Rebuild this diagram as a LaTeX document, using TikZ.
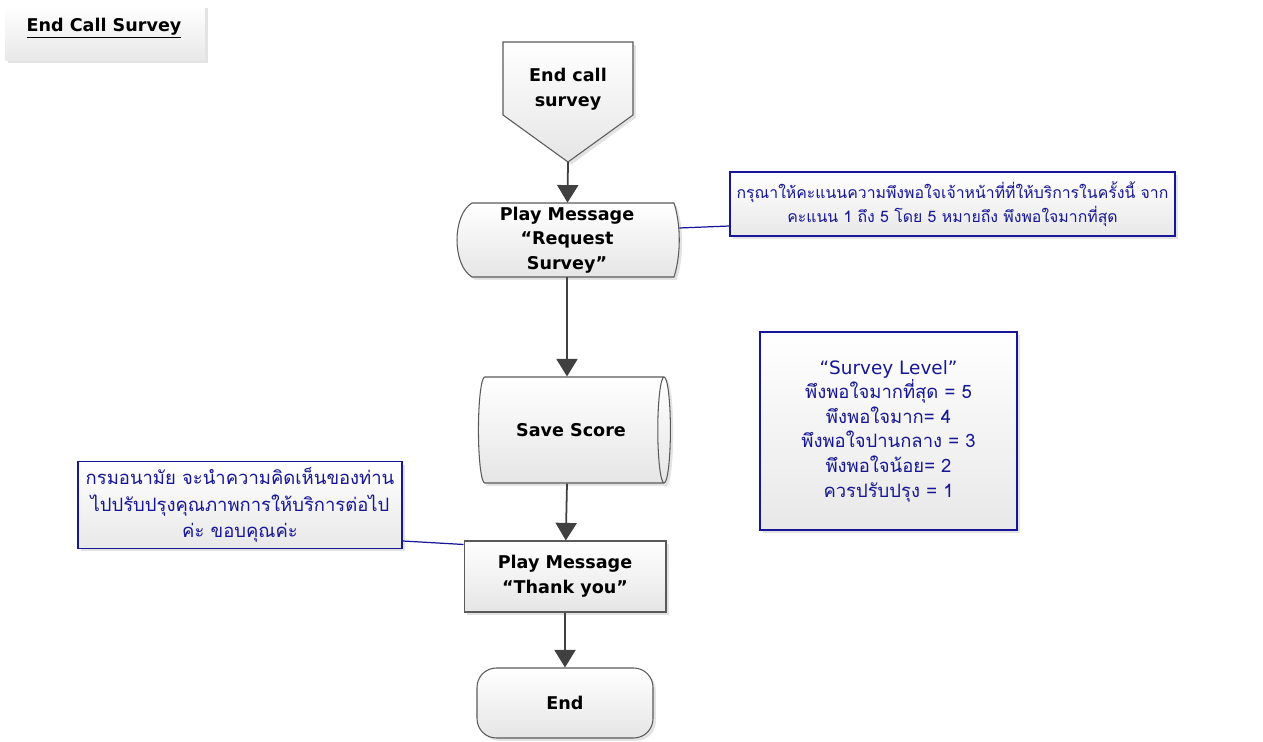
\documentclass[tikz,border=0pt]{standalone}
\usepackage{fontspec}
\setmainfont{DejaVu Sans}
\newfontfamily\thaifont[Script=Thai]{Loma}
\usetikzlibrary{arrows.meta,positioning,shapes.geometric,shadows,calc}
\definecolor{NoteBlue}{RGB}{22,22,150}
\definecolor{FlowGray}{RGB}{64,64,64}
\definecolor{EdgeGray}{RGB}{90,90,90}

\tikzset{
  shadowed/.style={drop shadow={opacity=0.22,shadow xshift=1.6pt,shadow yshift=-1.6pt}},
  shapefill/.style={top color=white,bottom color=black!10,draw=EdgeGray,line width=0.6pt},
  plain/.style={inner sep=0pt,align=center,font=\bfseries\fontsize{10}{14}\selectfont},
  notebox/.style={rectangle,draw=NoteBlue,line width=0.7pt,top color=white,bottom color=black!9,
                  shadowed,align=center,text=NoteBlue,font=\thaifont\fontsize{10}{13.6}\selectfont},
  flow/.style={draw=FlowGray,line width=1pt,-{Triangle[width=12pt,length=10pt]}},
  noteline/.style={draw=NoteBlue,line width=0.7pt}
}

\begin{document}
\begin{tikzpicture}[x=0.02cm,y=-0.02cm]
\useasboundingbox (0,0) rectangle (1263,742);

% title
\node[rectangle,top color=white,bottom color=black!9,shadowed,minimum width=4cm,minimum height=1.1cm] (titlebox) at (105,33) {};
\node[plain] (title) at (104,28) {\underline{End Call Survey}};

% off-page start
\path[shapefill,shadowed] (503,42) -- (633,42) -- (633,115) -- (568,162) -- (503,115) -- cycle;
\node[plain] (start) at (568,89) {End call\\survey};
\coordinate (starttip) at (568,162);

% request display
\path[shapefill,shadowed] (472,203) -- (674,203) .. controls (681,225) and (681,255) .. (674,277)
  -- (472,277) .. controls (452,265) and (452,215) .. (472,203) -- cycle;
\node[plain,minimum width=4.48cm,minimum height=1.48cm] (request) at (567,240) {Play Message\\“Request\\Survey”};

% save score
\node[cylinder,shape aspect=0.95,shapefill,shadowed,plain,minimum width=2.12cm,minimum height=3.84cm] (save) at (571,430) {Save Score};

% thank you + end
\node[rectangle,shapefill,shadowed,plain,minimum width=4.04cm,minimum height=1.42cm] (thanks) at (565,576.5) {Play Message\\“Thank you”};
\node[rectangle,rounded corners=11pt,shapefill,shadowed,plain,minimum width=3.52cm,minimum height=1.4cm] (finish) at (565,703) {End};

% notes
\node[notebox,minimum width=8.9cm,minimum height=1.28cm,font=\thaifont\fontsize{9}{13.6}\selectfont] (askscore) at (952.5,204)
  {กรุณาให้คะแนนความพึงพอใจเจ้าหน้าที่ที่ให้บริการในครั้งนี้ จาก\\คะแนน 1 ถึง 5 โดย 5 หมายถึง พึงพอใจมากที่สุด};
\node[notebox,minimum width=5.14cm,minimum height=3.96cm,font=\thaifont\fontsize{10.5}{14}\selectfont] (levels) at (888.5,431)
  {{\rmfamily “Survey Level”}\\พึงพอใจมากที่สุด = 5\\พึงพอใจมาก= 4\\พึงพอใจปานกลาง = 3\\พึงพอใจน้อย= 2\\ควรปรับปรุง = 1};
\node[notebox,minimum width=6.48cm,minimum height=1.72cm,font=\thaifont\fontsize{10.5}{15}\selectfont] (feedback) at (240,505)
  {กรมอนามัย จะนำความคิดเห็นของท่าน\\ไปปรับปรุงคุณภาพการให้บริการต่อไป\\ค่ะ ขอบคุณค่ะ};

% flow
\draw[flow] (starttip) -- (request);
\draw[flow] (request) -- (request |- save.north);
\draw[flow] (save.south -| request) -- (thanks);
\draw[flow] (thanks) -- (finish);

% note links
\draw[noteline] ([yshift=0.24cm]request.east) -- ([yshift=-0.44cm]askscore.west);
\draw[noteline] ([yshift=-0.72cm]feedback.east) -- ([yshift=-0.08cm]thanks.north west);
\end{tikzpicture}
\end{document}
